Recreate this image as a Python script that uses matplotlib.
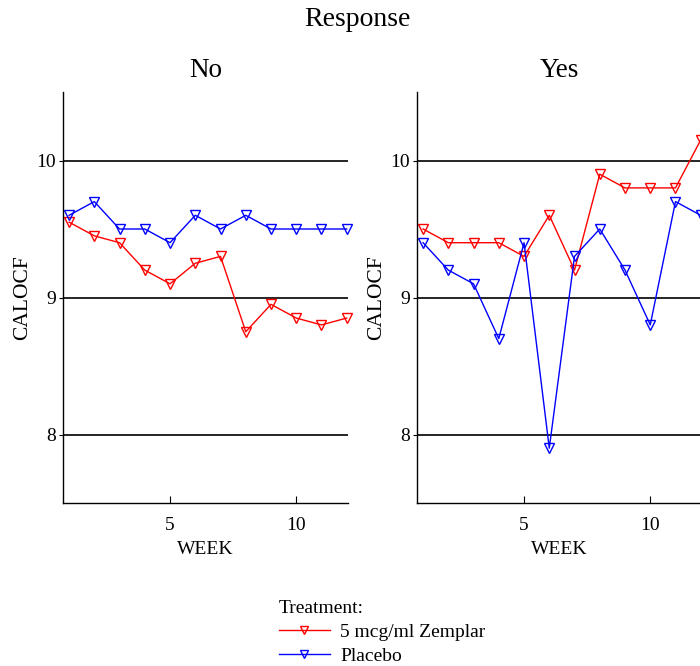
import numpy as np
import matplotlib.pyplot as plt

plt.rcParams['font.family'] = ['Liberation Serif', 'DejaVu Serif']

weeks = np.arange(1, 13)
groups = ['No', 'Yes']
treatments = ['5 mcg/ml Zemplar', 'Placebo']
colors = ['#ff0000', '#0000ff']

# CALOCF by week, per response group and treatment
no_zemplar = [9.55, 9.45, 9.40, 9.20, 9.10, 9.25, 9.30, 8.75, 8.95, 8.85, 8.80, 8.85]
no_placebo = [9.60, 9.70, 9.50, 9.50, 9.40, 9.60, 9.50, 9.60, 9.50, 9.50, 9.50, 9.50]
yes_zemplar = [9.50, 9.40, 9.40, 9.40, 9.30, 9.60, 9.20, 9.90, 9.80, 9.80, 9.80, 10.15]
yes_placebo = [9.40, 9.20, 9.10, 8.70, 9.40, 7.90, 9.30, 9.50, 9.20, 8.80, 9.70, 9.60]

series = {'No': [no_zemplar, no_placebo], 'Yes': [yes_zemplar, yes_placebo]}

W, H = 700, 666
fig = plt.figure(figsize=(W / 100, H / 100), dpi=100)

lefts = [63, 417]
handles = []
for left, grp in zip(lefts, groups):
    ax = fig.add_axes([left / W, (H - 503) / H, 285 / W, 411 / H])
    for vals, col, lab in zip(series[grp], colors, treatments):
        h, = ax.plot(weeks, vals, color=col, lw=1.0, marker='v', ms=7,
                     mfc='none', mec=col, mew=1.0, label=lab, clip_on=False)
        if grp == 'No':
            handles.append(h)
    ax.set_xlim(0.76, 12.05)
    ax.set_ylim(7.5, 10.5)
    ax.set_xticks([5, 10])
    ax.set_yticks([8, 9, 10])
    ax.yaxis.grid(True, color='black', lw=1.2)
    ax.set_axisbelow(True)
    for s in ['top', 'right']:
        ax.spines[s].set_visible(False)
    for s in ['left', 'bottom']:
        ax.spines[s].set_linewidth(1.0)
    ax.tick_params(axis='x', direction='in', length=5, pad=10, labelsize=14)
    ax.tick_params(axis='y', direction='out', length=3, pad=2, labelsize=14)
    ax.set_xlabel('WEEK', fontsize=14, labelpad=5)
    ax.set_ylabel('CALOCF', fontsize=15.5, labelpad=3)
    ax.set_title(grp, fontsize=19.5, pad=11)

fig.text(357 / W, 1 - 20 / H, 'Response', fontsize=20, ha='center', va='center')

fig.legend(handles=handles, labels=treatments, title='Treatment:',
           loc='upper left', bbox_to_anchor=(279 / W, 1 - 600 / H),
           frameon=False, fontsize=14, title_fontsize=14, alignment='left',
           handlelength=2.6, handletextpad=0.55, labelspacing=0.33,
           markerscale=0.85, borderaxespad=0, borderpad=0)

plt.savefig('out.png', dpi=100)
